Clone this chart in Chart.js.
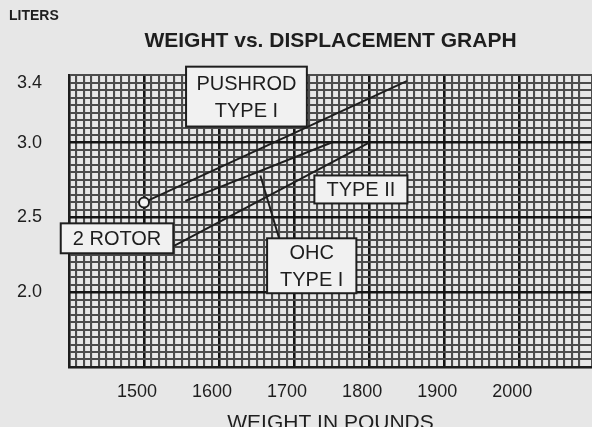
<!DOCTYPE html>
<html><head><meta charset="utf-8">
<script src="https://cdn.jsdelivr.net/npm/chart.js@4/dist/chart.umd.min.js"></script>
<style>html,body{margin:0;padding:0;background:#e7e7e7;overflow:hidden;}canvas{display:block;}</style>
</head><body>
<canvas id="c" width="599" height="427"></canvas>
<script>
// ---- data ----
const xTickLabels = [1500, 1600, 1700, 1800, 1900, 2000];
const yTickLabels = [2.0, 2.5, 3.0, 3.4];
const pushrodWeights = [1500, 1850];
const pushrodLiters  = [2.60, 3.41];
const ohcWeights     = [1555, 1750];
const ohcLiters      = [2.61, 3.00];
const type2Weights   = [1540, 1800];
const type2Liters    = [2.31, 3.00];
const leaderWeights  = [1680, 1655];
const leaderLiters   = [2.36, 2.78];
const boxTexts = [["PUSHROD", "TYPE I"], ["TYPE II"], ["OHC", "TYPE I"], ["2 ROTOR"]];

// ---- layout of annotation boxes (data coordinates) ----
const boxPlaces = [
  {x1: 1556, x2: 1717, y1: 3.507, y2: 3.107},
  {x1: 1727, x2: 1851, y1: 2.78, y2: 2.593},
  {x1: 1664, x2: 1783, y1: 2.36, y2: 1.993},
  {x1: 1389, x2: 1539, y1: 2.46, y2: 2.26}
];

const pts = (xs, ys) => xs.map((x, i) => ({x, y: ys[i]}));
const INK = '#1e1e1e';
const FONT = '"Liberation Sans", Arial, Helvetica, sans-serif';

const decor = {
  id: 'decor',
  afterDatasetsDraw(chart) {
    const ctx = chart.ctx, xs = chart.scales.x, ys = chart.scales.y;
    ctx.save();
    boxPlaces.forEach((b, i) => {
      const l = xs.getPixelForValue(b.x1), r = xs.getPixelForValue(b.x2);
      const t = ys.getPixelForValue(b.y1), btm = ys.getPixelForValue(b.y2);
      ctx.fillStyle = '#f1f1f1';
      ctx.fillRect(l, t, r - l, btm - t);
      ctx.lineWidth = 2;
      ctx.strokeStyle = INK;
      ctx.strokeRect(l, t, r - l, btm - t);
      const lines = boxTexts[i];
      ctx.fillStyle = INK;
      ctx.font = '20px ' + FONT;
      ctx.textAlign = 'center';
      ctx.textBaseline = 'middle';
      const cx = (l + r) / 2, cy = (t + btm) / 2, lh = 27;
      lines.forEach((s, k) => {
        ctx.fillText(s, cx, cy + (k - (lines.length - 1) / 2) * lh + 1);
      });
    });
    ctx.restore();
  },
  afterDraw(chart) {
    const ctx = chart.ctx;
    ctx.save();
    ctx.fillStyle = INK;
    ctx.font = 'bold 14px ' + FONT;
    ctx.textAlign = 'left';
    ctx.textBaseline = 'middle';
    ctx.fillText('LITERS', 9, 16);
    ctx.restore();
  }
};

const major = '#141414', minor = '#4c4c4c';

new Chart(document.getElementById('c'), {
  type: 'line',
  data: {
    datasets: [
      {data: pts(pushrodWeights, pushrodLiters), borderColor: INK, borderWidth: 2,
       pointRadius: [5, 0], pointBackgroundColor: '#f4f4f4', pointBorderColor: INK, pointBorderWidth: 2},
      {data: pts(ohcWeights, ohcLiters), borderColor: INK, borderWidth: 2, pointRadius: 0},
      {data: pts(type2Weights, type2Liters), borderColor: INK, borderWidth: 2, pointRadius: 0},
      {data: pts(leaderWeights, leaderLiters), borderColor: INK, borderWidth: 2, pointRadius: 0}
    ]
  },
  options: {
    responsive: false, animation: false, devicePixelRatio: 1,
    layout: {padding: 0},
    plugins: {
      legend: {display: false}, tooltip: {enabled: false},
      title: {display: true, fullSize: false, text: 'WEIGHT vs. DISPLACEMENT GRAPH', color: INK,
              font: {family: FONT, size: 21, weight: 'bold'}, padding: {top: 29, bottom: 21}}
    },
    scales: {
      x: {
        type: 'linear', min: 1400, max: 2097,
        afterFit: s => { s.height = 60; s.paddingRight = 0; s.paddingLeft = 0; },
        border: {display: true, color: INK, width: 2},
        grid: {
          drawTicks: false,
          color: c => (Math.round(c.tick.value) % 100 === 0 ? major : minor),
          lineWidth: c => (Math.round(c.tick.value) % 100 === 0 ? 2.6 : 2.1)
        },
        ticks: {
          stepSize: 10, autoSkip: false, maxRotation: 0, padding: 14, labelOffset: -7,
          color: INK, font: {family: FONT, size: 18},
          callback: v => (xTickLabels.includes(Math.round(v)) ? String(Math.round(v)) : '')
        },
        title: {display: true, text: 'WEIGHT IN POUNDS', color: INK,
                font: {family: FONT, size: 21}, padding: {top: 0, bottom: -9}}
      },
      y: {
        type: 'linear', min: 1.5, max: 3.45,
        afterFit: s => { s.width = 69; s.paddingTop = 0; s.paddingBottom = 0; },
        border: {display: true, color: INK, width: 2},
        grid: {
          drawTicks: false,
          color: c => (Math.round(c.tick.value * 100) % 50 === 0 ? major : minor),
          lineWidth: c => (Math.round(c.tick.value * 100) % 50 === 0 ? 2.6 : 2.1)
        },
        ticks: {
          stepSize: 0.05, autoSkip: false, padding: 27,
          color: INK, font: {family: FONT, size: 18},
          callback: v => {
            const r = Math.round(v * 100) / 100;
            return yTickLabels.includes(r) ? r.toFixed(1) : '';
          }
        }
      }
    }
  },
  plugins: [decor]
});
</script>
</body></html>
